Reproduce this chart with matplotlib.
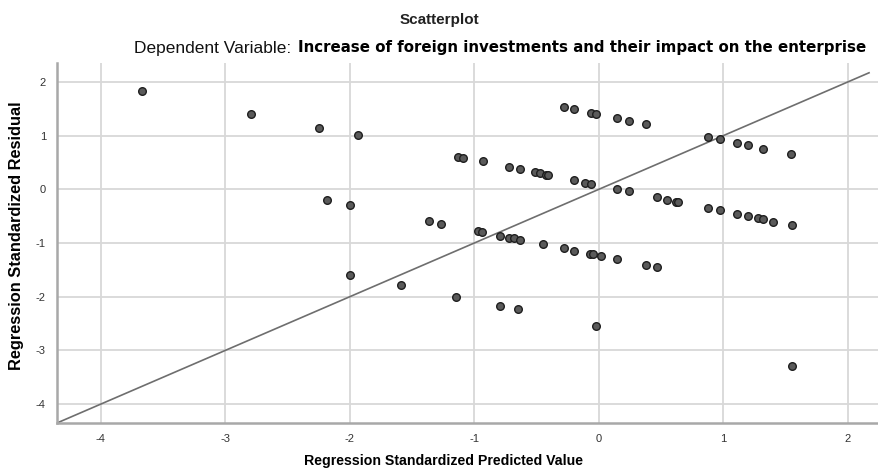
import matplotlib
matplotlib.use("Agg")
import matplotlib.pyplot as plt

narrow = "Liberation Sans"

predicted = [-3.67, -2.79, -2.25, -1.93, -2.18, -2.00, -2.00, -1.59, -1.15, -0.79, -0.65, -0.02, 1.55,
             -0.28, -0.20, -0.06, -0.02, 0.15, 0.24, 0.38, 0.88, 0.97, 1.11, 1.20, 1.32, 1.54,
             -1.13, -1.09, -0.93, -0.72, -0.63, -0.51, -0.47, -0.42, -0.41, -0.20, -0.11, -0.06,
             0.15, 0.24, 0.47, 0.55, 0.62, 0.64, 0.88, 0.97, 1.11, 1.20, 1.28, 1.32, 1.40, 1.55,
             -1.36, -1.27, -0.97, -0.94, -0.79, -0.72, -0.68, -0.63, -0.45, -0.28, -0.20, -0.07,
             -0.05, 0.02, 0.15, 0.38, 0.47]
residual = [1.83, 1.41, 1.15, 1.01, -0.20, -0.29, -1.59, -1.79, -2.00, -2.17, -2.23, -2.54, -3.29,
            1.53, 1.49, 1.42, 1.40, 1.32, 1.28, 1.21, 0.97, 0.93, 0.86, 0.82, 0.76, 0.65,
            0.61, 0.59, 0.52, 0.42, 0.38, 0.32, 0.30, 0.27, 0.26, 0.17, 0.12, 0.10,
            0.00, -0.04, -0.15, -0.19, -0.23, -0.24, -0.35, -0.39, -0.46, -0.50, -0.53, -0.55, -0.60, -0.66,
            -0.59, -0.64, -0.78, -0.79, -0.87, -0.90, -0.91, -0.94, -1.02, -1.10, -1.15, -1.20,
            -1.20, -1.25, -1.29, -1.40, -1.45]
ticks = [-4, -3, -2, -1, 0, 1, 2]
ref_line = [-4.35, 2.17]

title = "Scatterplot"
dep_label = "Dependent Variable:"
dep_name = "Increase of foreign investments and their impact on the enterprise"
xlabel = "Regression Standardized Predicted Value"
ylabel = "Regression Standardized Residual"

fig = plt.figure(figsize=(8.79, 4.71), dpi=100)
ax = fig.add_axes([0.0648, 0.1019, 0.9352, 0.7641])
ax.set_xlim(-4.35, 2.25)
ax.set_ylim(-4.35, 2.35)
ax.set_xticks(ticks)
ax.set_yticks(ticks)
ax.set_xticklabels([str(t) for t in ticks])
ax.set_yticklabels([str(t) for t in ticks])
ax.grid(True, color="#d8d8d8", linewidth=1.3)
ax.set_axisbelow(True)
for s in ["top", "right"]:
    ax.spines[s].set_visible(False)
for s in ["left", "bottom"]:
    ax.spines[s].set_color("#a8a8a8")
    ax.spines[s].set_linewidth(1.8)
ax.tick_params(length=0, pad=8, labelsize=8, labelcolor="#333333")
for lab in ax.get_xticklabels() + ax.get_yticklabels():
    lab.set_family(narrow)

ax.plot(ref_line, ref_line, color="#6e6e6e", linewidth=1.2, zorder=2)
ax.scatter(predicted, residual, s=30, facecolor="#5a5a5a", edgecolor="#1e1e1e", linewidths=1.0, zorder=3)

ax.set_xlabel(xlabel, family=narrow, fontweight="bold", fontsize=10.2)
ax.set_ylabel(ylabel, family=narrow, fontweight="bold", fontsize=11.8)
ax.xaxis.set_label_coords(0.47, -0.086)
ax.yaxis.set_label_coords(-0.040, 0.52)

fig.text(0.5, 0.958, title, ha="center", va="center", family=narrow, fontsize=11, fontweight="bold", color="#222222")
fig.text(0.331, 0.898, dep_label, ha="right", va="center", family=narrow, fontsize=12.5, color="#111111")
fig.text(0.339, 0.900, dep_name, ha="left", va="center", family="DejaVu Sans", fontsize=10.8, fontweight="bold", color="#000000")

fig.savefig("out.png", dpi=100)
